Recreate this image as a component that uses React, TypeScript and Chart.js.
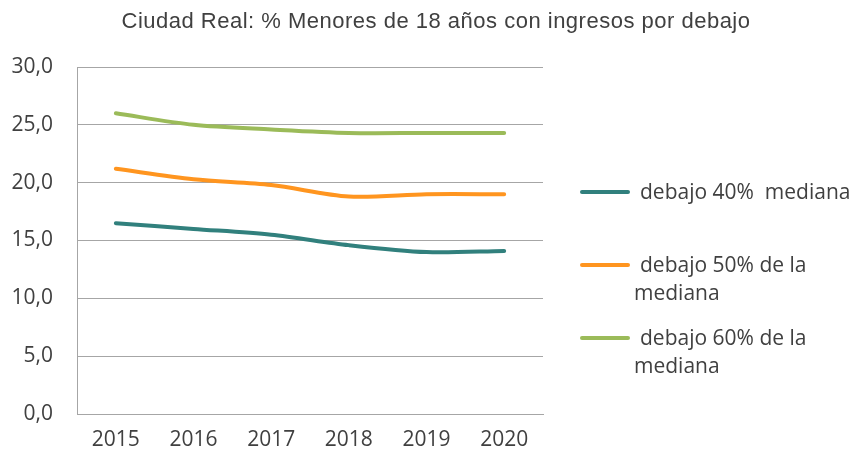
import React, { useEffect, useRef } from "react";
import { Chart, registerables } from "chart.js";

Chart.register(...registerables);

const TITLE = "Ciudad Real: % Menores de 18 años con ingresos por debajo";
const YEARS = ["2015", "2016", "2017", "2018", "2019", "2020"];
const SERIES_NAMES = ["debajo 40%  mediana", "debajo 50% de la mediana", "debajo 60% de la mediana"];
const LEGEND_LINES = [["debajo 40%  mediana"], ["debajo 50% de la", "mediana"], ["debajo 60% de la", "mediana"]];
const BELOW_40 = [16.5, 16.0, 15.5, 14.6, 14.0, 14.1];
const BELOW_50 = [21.2, 20.3, 19.8, 18.8, 19.0, 19.0];
const BELOW_60 = [26.0, 25.0, 24.6, 24.3, 24.3, 24.3];
const COLORS = ["#31807D", "#FF951F", "#9BBB59"];

const FONT = "'Open Sans', sans-serif";
const TEXT = "#404040";
const GRID = "#A6A6A6";

export default function App() {
  const ref = useRef<HTMLCanvasElement | null>(null);

  useEffect(() => {
    if (!ref.current) return;
    const data = [BELOW_40, BELOW_50, BELOW_60];
    const chart = new Chart(ref.current, {
      type: "line",
      data: {
        labels: YEARS,
        datasets: data.map((d, i) => ({
          label: SERIES_NAMES[i],
          data: d,
          borderColor: COLORS[i],
          backgroundColor: COLORS[i],
          borderWidth: 4,
          pointRadius: 0,
          tension: 0.3,
          borderCapStyle: "round" as const,
          fill: false,
        })),
      },
      options: {
        animation: false,
        responsive: false,
        maintainAspectRatio: false,
        layout: { padding: { left: 0, right: 311, top: 67, bottom: 0 } },
        plugins: {
          legend: { display: false },
          title: { display: false },
          tooltip: { enabled: false },
        },
        scales: {
          x: {
            offset: true,
            grid: { display: false, drawTicks: false },
            border: { display: true, color: GRID, width: 1 },
            ticks: { color: TEXT, font: { family: FONT, size: 21 }, padding: 13, maxRotation: 0 },
            afterFit: (s: any) => {
              s.height = 43;
            },
          },
          y: {
            min: 0,
            max: 30,
            grid: { color: GRID, drawTicks: false, lineWidth: 1 },
            border: { display: true, color: GRID, width: 1 },
            ticks: {
              stepSize: 5,
              padding: 24,
              color: TEXT,
              font: { family: FONT, size: 21 },
              callback: (v: any) => Number(v).toFixed(1).replace(".", ","),
            },
            afterFit: (s: any) => {
              s.width = 77;
            },
          },
        },
      },
    });
    return () => chart.destroy();
  }, []);

  const legendTops = [192, 265, 338];

  return (
    <div style={{ position: "fixed", left: 0, top: 0, width: 854, height: 457, background: "#fff", overflow: "hidden" }}>
      <canvas ref={ref} width={854} height={457} style={{ position: "absolute", left: 0, top: 0, width: 854, height: 457 }} />
      <div
        style={{
          position: "absolute",
          left: 0,
          width: 872,
          top: 7,
          textAlign: "center",
          fontFamily: "'Liberation Sans', Arial, sans-serif",
          fontSize: 22,
          letterSpacing: "0.5px",
          lineHeight: "27px",
          color: TEXT,
          whiteSpace: "nowrap",
        }}
      >
        {TITLE}
      </div>
      {LEGEND_LINES.map((lines, i) => (
        <React.Fragment key={i}>
          <div
            style={{
              position: "absolute",
              left: 580,
              top: legendTops[i] - 2,
              width: 50,
              height: 4,
              borderRadius: 2,
              background: COLORS[i],
            }}
          />
          {lines.map((t, j) => (
            <div
              key={j}
              style={{
                position: "absolute",
                left: j === 0 ? 640 : 634,
                top: legendTops[i] - 15 + j * 28,
                fontFamily: FONT,
                fontSize: 21,
                lineHeight: "29px",
                color: TEXT,
                whiteSpace: "pre",
              }}
            >
              {t}
            </div>
          ))}
        </React.Fragment>
      ))}
    </div>
  );
}
